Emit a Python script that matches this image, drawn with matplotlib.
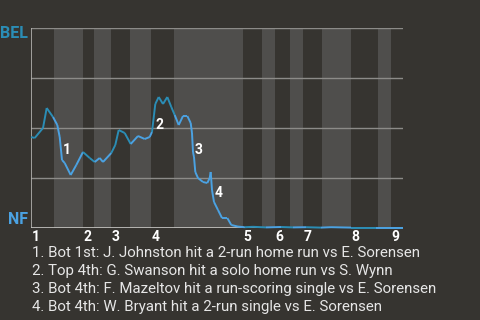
import numpy as np
import matplotlib
matplotlib.use("Agg")
import matplotlib.pyplot as plt
from matplotlib.collections import LineCollection

plt.rcParams['font.family'] = ['Roboto', 'DejaVu Sans']

# game progress (0..372) and BEL win probability
progress = [0, 3.7, 12, 15.7, 22, 26.3, 28.7, 31, 33.7, 39.7, 45.3, 52, 58.7, 63.7,
            68.7, 72, 80.3, 84.3, 87.7, 93.7, 99.7, 107, 113.7, 118.7, 121, 123,
            124.3, 127.7, 132, 136.3, 140.3, 143.7, 147.7, 152, 156.3, 159.7, 161,
            162, 163, 164.3, 167, 172, 176.3, 178.7, 179.7, 181, 183, 187, 191,
            196.3, 200.3, 207, 213.7, 222, 235, 250, 262, 275, 290, 300, 320, 345, 372]
win_prob = [0.455, 0.45, 0.50, 0.60, 0.555, 0.515, 0.455, 0.34, 0.325, 0.265, 0.315,
            0.38, 0.35, 0.33, 0.35, 0.33, 0.375, 0.415, 0.49, 0.475, 0.42, 0.46,
            0.445, 0.455, 0.48, 0.565, 0.62, 0.655, 0.62, 0.655, 0.605, 0.565,
            0.515, 0.56, 0.56, 0.525, 0.475, 0.38, 0.355, 0.28, 0.25, 0.23, 0.225,
            0.25, 0.28, 0.19, 0.13, 0.09, 0.05, 0.05, 0.015, 0.007, 0.004, 0.006,
            0.003, 0.005, 0.003, 0.004, 0.002, 0.004, 0.002, 0.002, 0.002]

# half-inning boundaries (top 1 ... top 9)
half_edges = [0, 23, 52, 63, 80, 99, 120, 143, 212, 231, 244, 259, 272, 291, 320, 347, 360, 372]
innings = ['1', '2', '3', '4', '5', '6', '7', '8', '9']

events_x = [36, 128, 168, 188]
events_y = [0.39, 0.515, 0.39, 0.175]
event_labels = ['1', '2', '3', '4']
event_text = [
    "1. Bot 1st: J. Johnston hit a 2-run home run vs E. Sorensen",
    "2. Top 4th: G. Swanson hit a solo home run vs S. Wynn",
    "3. Bot 4th: F. Mazeltov hit a run-scoring single vs E. Sorensen",
    "4. Bot 4th: W. Bryant hit a 2-run single vs E. Sorensen",
]

bg = '#363430'
band = '#4f4e4c'
bel_color = '#2b8db5'
nf_color = '#4ba2e2'

fig = plt.figure(figsize=(4.8, 3.2), dpi=100, facecolor=bg)
ax = fig.add_axes([31 / 480, 92 / 320, 372 / 480, 200 / 320])
ax.set_facecolor(bg)
ax.set_xlim(0, half_edges[-1])
ax.set_ylim(0, 1)

# bottom halves get the lighter band
for i in range(len(half_edges) - 1):
    if i % 2 == 1:
        ax.axvspan(half_edges[i], half_edges[i + 1], color=band, lw=0, zorder=0)

for g in [0.25, 0.5, 0.75, 1.0]:
    ax.axhline(g, color='#8c8b88', lw=1, zorder=1)

for s in ax.spines.values():
    s.set_visible(False)
ax.axvline(0, color='#b5b4b1', lw=1.2, zorder=2)
ax.axhline(0, color='#c8c7c4', lw=1.2, zorder=2)
ax.set_xticks([])
ax.set_yticks([])

# colour each segment by which team is batting
x = np.array(progress)
y = np.array(win_prob)
segs = [[(x[i], y[i]), (x[i + 1], y[i + 1])] for i in range(len(x) - 1)]
cols = []
for i in range(len(x) - 1):
    mid = (x[i] + x[i + 1]) / 2
    k = np.searchsorted(half_edges, mid) - 1
    cols.append(bel_color if k % 2 == 0 else nf_color)
lc = LineCollection(segs, colors=cols, linewidths=1.4, zorder=3, clip_on=False)
ax.add_collection(lc)

for ex, ey, lab in zip(events_x, events_y, event_labels):
    ax.text(ex, ey, lab, color='white', fontsize=10, fontweight='bold',
            ha='center', va='center', zorder=4)

for j, inn in enumerate(innings):
    ax.text(half_edges[2 * j] + 0.5, -0.045, inn, color='white', fontsize=10,
            fontweight='bold', ha='left', va='center', clip_on=False)

fig.text(28 / 480, 1 - 33 / 320, 'BEL', color=bel_color, fontsize=11.5,
         fontweight='bold', ha='right', va='center')
fig.text(28 / 480, 1 - 220 / 320, 'NF', color=nf_color, fontsize=11.5,
         fontweight='bold', ha='right', va='center')

for j, t in enumerate(event_text):
    fig.text(32 / 480, 1 - (253 + 18 * j) / 320, t, color='#e6e6e6',
             fontsize=10.8, ha='left', va='center')

fig.savefig('out.png', dpi=100, facecolor=bg)
